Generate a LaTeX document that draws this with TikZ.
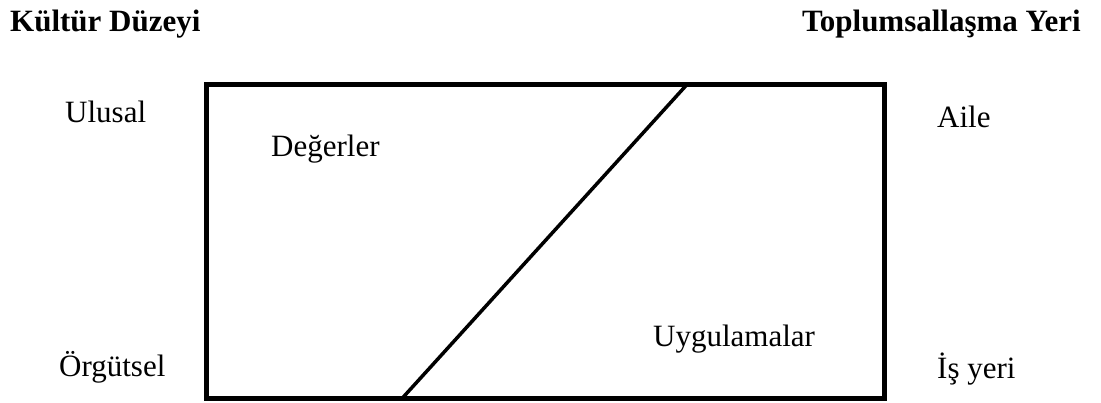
\documentclass[tikz,border=0pt]{standalone}
\usepackage{fontspec}
\setmainfont{Liberation Serif}
\begin{document}
\begin{tikzpicture}[x=1pt,y=-1pt,
  lbl/.style={inner sep=0pt,anchor=base west,font=\fontsize{31}{36}\selectfont},
  head/.style={inner sep=0pt,font=\fontsize{31}{36}\selectfont\bfseries},
  frame/.style={line width=5pt},
  diag/.style={line width=3.5pt}]
\useasboundingbox (0,0) rectangle (1101,403);
\node[head,anchor=base west] (kd) at (10,32) {Kültür Düzeyi};
\node[head,anchor=base east] (ty) at (1081,32) {Toplumsallaşma Yeri};
\draw[frame] (206.5,84.5) rectangle (884.5,398.5);
\coordinate (dt) at (687,84.5);
\coordinate (db) at (402,398.5);
\draw[diag] (dt) -- (db);
\node[lbl] (ul) at (65,123) {Ulusal};
\node[lbl] (de) at (271,157) {Değerler};
\node[lbl] (ai) at (937,128) {Aile};
\node[lbl] (or) at (59,377) {Örgütsel};
\node[lbl] (uy) at (653,347) {Uygulamalar};
\node[lbl] (is) at (937,378) {İş yeri};
\end{tikzpicture}
\end{document}
